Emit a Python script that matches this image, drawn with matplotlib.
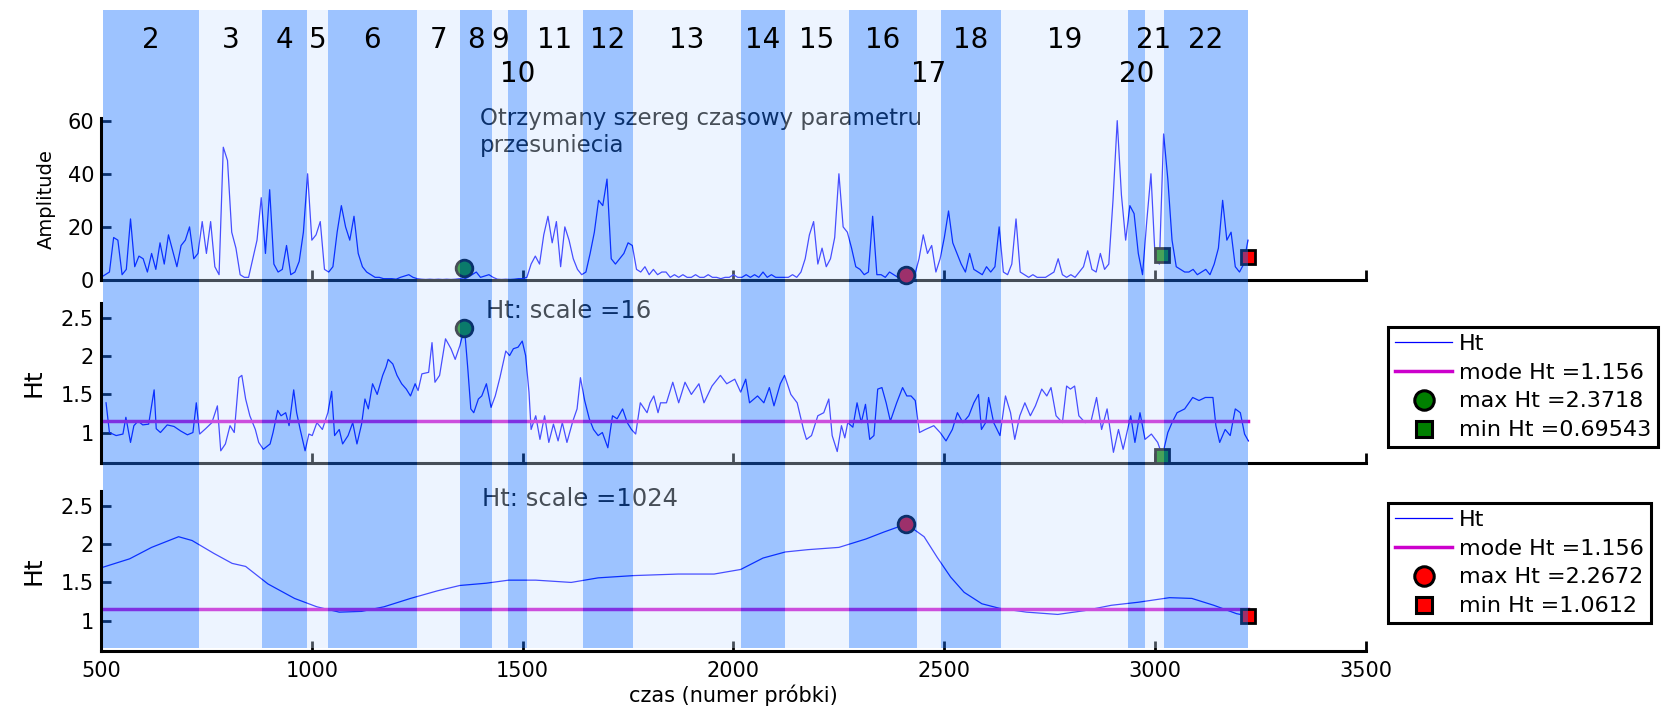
import numpy as np
import matplotlib
matplotlib.use("Agg")
import matplotlib.pyplot as plt
from matplotlib.lines import Line2D

# ---------------------------------------------------------------------------
# Data
# ---------------------------------------------------------------------------

# segment boundaries (sample index); segment n spans seg_edges[n-2]..seg_edges[n-1]
seg_edges = [505, 732, 882, 988, 1038, 1249, 1351, 1427, 1465, 1510, 1643,
             1761, 2017, 2122, 2273, 2435, 2492, 2634, 2935, 2975, 3020, 3220]
seg_numbers = list(range(2, 23))
seg_second_row = [10, 17, 20]

# shift-parameter amplitude, one value every 10 samples from 500
amp_start, amp_step = 500, 10
amp_values = [
    1, 2, 3, 16, 15, 2, 4, 23, 5, 9, 8, 3, 10, 4, 14, 6, 17, 11, 5, 13, 15, 20, 8, 10,
    22, 10, 22, 5, 2, 50, 45, 18, 12, 2, 1, 1, 8, 15, 31,
    10, 34, 6, 3, 4, 13, 2, 3, 7, 18, 40, 15, 17, 22, 4,
    3, 5, 18, 28, 20, 15, 24, 10, 5, 3, 2, 1, 1, 0.5, 0.5, 0.5, 0.3, 1, 1.5, 2, 1, 0.5,
    0.3, 0.2, 0.3, 0.2, 0.3, 0.2, 0.3, 0.2, 0.3, 0.5, 0.3, 1, 2, 3, 1, 1.5, 2, 1, 0.3,
    0.2, 0.3, 0.2, 0.3, 0.5, 0.5, 1,
    6, 9, 6, 17, 24, 14, 22, 5, 20, 15, 8, 4, 2,
    3, 10, 18, 30, 28, 38, 8, 6, 8, 10, 14, 13,
    4, 3, 5, 2, 4, 2, 3, 3, 1, 2, 1, 2, 1, 1, 2, 1, 1, 2, 1, 1, 0.5, 1, 1, 2, 1,
    1, 2, 1, 2, 1, 3, 1, 2, 1, 1, 1,
    1, 2, 1, 3, 8, 17, 22, 6, 12, 5, 8, 16, 40, 20, 18,
    12, 5, 4, 2, 3, 24, 2, 2, 1, 3, 2, 1, 2, 1, 3, 2,
    8, 17, 10, 13, 3, 8, 16, 26, 14, 10, 6, 3, 10, 4, 3, 2, 5, 3, 5, 20,
    3, 2, 6, 23, 3, 2, 1, 2, 1, 1, 1, 2, 3, 8, 2, 1, 2, 1, 3, 5, 11, 4, 3, 10, 4, 6,
    30, 60, 32, 15,
    28, 25, 10, 2, 22, 40, 8, 6,
    55, 38, 15, 5, 4, 3, 3, 4, 2, 3, 4, 2, 6, 12, 30, 15, 18, 5, 3, 6, 15,
]

# Hurst exponent, scale 16
ht16_x = [
    512, 520, 536, 552, 559, 570, 578, 588, 599, 613, 626, 631, 641, 657, 673, 689,
    705, 718, 726, 734, 748, 763, 776, 784, 795, 806, 816, 827, 834, 843, 853, 866,
    874, 885, 901, 908, 919, 927, 938, 946, 957, 964, 972, 984, 993, 1001, 1012, 1025,
    1038, 1047, 1054, 1065, 1073, 1086, 1097, 1107, 1118, 1126, 1134, 1144, 1155, 1168,
    1176, 1181, 1192, 1202, 1213, 1224, 1234, 1245, 1252, 1261, 1277, 1285, 1292, 1303,
    1317, 1330, 1340, 1351, 1362, 1370, 1377, 1384, 1395, 1403, 1414, 1425, 1435, 1446,
    1460, 1469, 1478, 1489, 1499, 1507, 1515, 1520, 1531, 1541, 1552, 1562, 1573, 1584,
    1594, 1605, 1619, 1629, 1637, 1647, 1658, 1668, 1679, 1689, 1702, 1713, 1724, 1737,
    1748, 1758, 1768, 1779, 1795, 1802, 1811, 1821, 1827, 1841, 1856, 1870, 1885, 1900,
    1918, 1930, 1949, 1969, 1984, 2003, 2017, 2029, 2038, 2057, 2072, 2085, 2096, 2111,
    2121, 2136, 2151, 2166, 2173, 2185, 2200, 2214, 2226, 2234, 2246, 2256, 2264, 2271,
    2283, 2293, 2303, 2313, 2323, 2333, 2342, 2352, 2362, 2372, 2387, 2401, 2411, 2421,
    2431, 2441, 2455, 2475, 2490, 2504, 2519, 2531, 2544, 2558, 2570, 2581, 2588, 2598,
    2605, 2617, 2632, 2645, 2657, 2667, 2679, 2691, 2704, 2716, 2731, 2743, 2753, 2765,
    2780, 2790, 2799, 2809, 2819, 2834, 2848, 2861, 2873, 2886, 2901, 2913, 2924, 2942,
    2952, 2964, 2976, 2991, 3006, 3017, 3030, 3040, 3052, 3070, 3089, 3104, 3119, 3137,
    3144, 3153, 3166, 3178, 3190, 3202, 3212, 3221,
]
ht16_y = [
    1.39, 1.00, 0.96, 0.98, 1.20, 0.87, 1.09, 1.15, 1.10, 1.11, 1.56, 1.05, 1.00, 1.10, 1.08, 1.02,
    0.97, 1.00, 1.39, 0.98, 1.05, 1.13, 1.35, 0.76, 0.85, 1.09, 1.00, 1.72, 1.75, 1.44, 1.22, 1.04,
    0.87, 0.78, 0.85, 1.00, 1.29, 1.22, 1.26, 1.09, 1.56, 1.26, 1.05, 0.76, 0.98, 0.96, 1.13, 1.04,
    1.26, 1.54, 0.96, 1.04, 0.85, 0.96, 1.13, 0.85, 1.11, 1.44, 1.31, 1.64, 1.50, 1.75,
    1.86, 1.96, 1.90, 1.75, 1.64, 1.57, 1.48, 1.64, 1.55, 1.77, 1.79, 2.18, 1.66, 1.75,
    2.23, 2.10, 1.96, 2.14, 2.3718, 1.83, 1.31, 1.26, 1.44, 1.48, 1.64, 1.33, 1.48, 1.72,
    2.07, 2.01, 2.10, 2.12, 2.20, 2.01, 1.53, 1.04, 1.22, 0.91, 1.22, 0.87, 1.11, 0.89,
    1.13, 0.87, 1.15, 1.31, 1.72, 1.42, 1.18, 1.04, 0.96, 1.00, 0.80, 1.22, 1.18, 1.31,
    1.13, 1.04, 0.98, 1.39, 1.26, 1.39, 1.48, 1.26, 1.39, 1.39, 1.66, 1.39, 1.66, 1.50,
    1.64, 1.39, 1.61, 1.75, 1.64, 1.70, 1.53, 1.70, 1.39, 1.48, 1.39, 1.59, 1.35, 1.64,
    1.75, 1.50, 1.39, 1.04, 0.91, 0.96, 1.22, 1.26, 1.44, 0.96, 0.75, 1.09, 0.93, 1.13,
    1.07, 1.39, 1.13, 1.37, 0.91, 0.96, 1.57, 1.59, 1.39, 1.15, 1.39, 1.59, 1.48, 1.48,
    1.42, 1.00, 1.04, 1.09, 1.00, 0.89, 1.04, 1.26, 1.13, 1.22, 1.39, 1.50, 1.04, 1.13,
    1.46, 1.13, 0.96, 1.48, 1.26, 0.91, 1.22, 1.39, 1.22, 1.35, 1.57, 1.48, 1.59, 1.22,
    1.13, 1.61, 1.57, 1.61, 1.22, 1.13, 1.15, 1.46, 1.04, 1.31, 0.74, 1.04, 0.78, 1.22,
    0.87, 1.26, 0.91, 0.98, 0.87, 0.69543, 1.00, 1.13, 1.26, 1.31, 1.46, 1.42, 1.46, 1.46,
    1.09, 0.87, 1.04, 0.96, 1.31, 1.26, 0.98, 0.89,
]

# Hurst exponent, scale 1024
ht1024_x = [
    505, 568, 620, 684, 716, 768, 811, 843, 896, 959, 1012, 1065, 1118, 1171, 1234,
    1298, 1351, 1414, 1467, 1531, 1615, 1679, 1764, 1869, 1954, 2017, 2070, 2123, 2176,
    2250, 2314, 2356, 2410, 2452, 2483, 2515, 2547, 2589, 2631, 2695, 2769, 2833, 2896,
    2960, 3034, 3087, 3139, 3193, 3220,
]
ht1024_y = [
    1.70, 1.81, 1.96, 2.10, 2.05, 1.88, 1.75, 1.71, 1.48, 1.29, 1.18, 1.11, 1.12, 1.18, 1.29,
    1.39, 1.46, 1.49, 1.53, 1.53, 1.50, 1.56, 1.59, 1.61, 1.61, 1.67, 1.82, 1.90, 1.93,
    1.96, 2.07, 2.16, 2.2672, 2.10, 1.83, 1.57, 1.37, 1.22, 1.16, 1.11, 1.08, 1.13, 1.20,
    1.24, 1.30, 1.29, 1.20, 1.09, 1.0612,
]

mode_ht = 1.156
mode_span = [505, 3220]
max16_x, max16_val = 1362, 2.3718
min16_x, min16_val = 3017, 0.69543
max1024_x, max1024_val = 2410, 2.2672
min1024_x, min1024_val = 3220, 1.0612

# the same four positions marked on the amplitude trace
amp_mark_y = [4.6, 1.9, 9.4, 8.8]

# ---------------------------------------------------------------------------
# Styling
# ---------------------------------------------------------------------------

BLUE = "#0000ff"
MODE_C = "#cc00cc"
GREEN = "#008000"
RED = "#ff0000"
DARK_BAND = (0.094, 0.446, 1.0)
LIGHT_BAND = (0.80, 0.886, 1.0)

W_PX, H_PX = 1665, 706
L = 101 / W_PX
W = (1366 - 101) / W_PX


def style_axes(ax, ylim, yticks, yticklabels, show_x):
    ax.set_xlim(500, 3500)
    ax.set_ylim(*ylim)
    ax.set_xticks(range(500, 3501, 500))
    ax.set_yticks(yticks)
    ax.set_yticklabels(yticklabels)
    for s in ("top", "right"):
        ax.spines[s].set_visible(False)
    for s in ("left", "bottom"):
        ax.spines[s].set_linewidth(2.2)
    ax.tick_params(direction="in", length=7, width=2, labelsize=15, pad=5)
    ax.tick_params(axis="x", pad=7)
    if not show_x:
        ax.tick_params(axis="x", labelbottom=False)
    ax.patch.set_alpha(0)


def marker(ax, x, y, shape, color, size):
    ax.plot([x], [y], ls="none", marker=shape, ms=size, mfc=color,
            mec="black", mew=2, zorder=6, clip_on=False)


def add_legend(ax, top_px, color, max_val, min_val):
    handles = [
        Line2D([], [], color=BLUE, lw=0.9),
        Line2D([], [], color=MODE_C, lw=2.5),
        Line2D([], [], ls="none", marker="o", ms=14, mfc=color, mec="black", mew=2.2),
        Line2D([], [], ls="none", marker="s", ms=11, mfc=color, mec="black", mew=2.2),
    ]
    labels = ["Ht", f"mode Ht ={mode_ht:g}", f"max Ht ={max_val:g}",
              f"min Ht ={min_val:g}"]
    leg = ax.legend(handles, labels, loc="upper left",
                    bbox_to_anchor=(1388 / W_PX, 1 - top_px / H_PX),
                    bbox_transform=ax.figure.transFigure,
                    fontsize=16, frameon=True, fancybox=False, framealpha=1,
                    edgecolor="black", borderpad=0.3, labelspacing=0.4,
                    handlelength=2.6, handletextpad=0.3, borderaxespad=0,
                    numpoints=1)
    leg.get_frame().set_linewidth(2.2)


fig = plt.figure(figsize=(W_PX / 100, H_PX / 100), dpi=100)

ax_amp = fig.add_axes([L, 1 - 280 / H_PX, W, 162 / H_PX])
ax_h16 = fig.add_axes([L, 1 - 463 / H_PX, W, 160 / H_PX])
ax_h1k = fig.add_axes([L, 1 - 651 / H_PX, W, 160 / H_PX])

# --- amplitude ---
amp_x = np.arange(len(amp_values)) * amp_step + amp_start
ax_amp.plot(amp_x, amp_values, color=BLUE, lw=0.9)
style_axes(ax_amp, (0, 61), [0, 20, 40, 60], ["0", "20", "40", "60"], False)
ax_amp.set_ylabel("Amplitude", fontsize=14)
ax_amp.yaxis.set_label_coords(-0.036, 0.5)
ax_amp.text(1399, 65.3, "Otrzymany szereg czasowy parametru\nprzesuniecia",
            fontsize=16.5, va="top", ha="left", linespacing=1.25, color="black")
marker(ax_amp, max16_x, amp_mark_y[0], "o", GREEN, 12)
marker(ax_amp, max1024_x, amp_mark_y[1], "o", RED, 12)
marker(ax_amp, min16_x, amp_mark_y[2], "s", GREEN, 10)
marker(ax_amp, min1024_x, amp_mark_y[3], "s", RED, 10)

ht_ticks = [1, 1.5, 2, 2.5]
ht_labels = ["1", "1.5", "2", "2.5"]

# --- Ht, scale 16 ---
ax_h16.plot(ht16_x, ht16_y, color=BLUE, lw=0.9)
ax_h16.plot(mode_span, [mode_ht, mode_ht], color=MODE_C, lw=2.5)
marker(ax_h16, max16_x, max16_val, "o", GREEN, 12)
marker(ax_h16, min16_x, min16_val, "s", GREEN, 10)
style_axes(ax_h16, (0.6, 2.7), ht_ticks, ht_labels, False)
ax_h16.set_ylabel("Ht", fontsize=18)
ax_h16.yaxis.set_label_coords(-0.0435, 0.5)
ax_h16.text(1413, 2.59, "Ht: scale =16", fontsize=17.5, va="center", color="black")
add_legend(ax_h16, 327, GREEN, max16_val, min16_val)

# --- Ht, scale 1024 ---
ax_h1k.plot(ht1024_x, ht1024_y, color=BLUE, lw=0.9)
ax_h1k.plot(mode_span, [mode_ht, mode_ht], color=MODE_C, lw=2.5)
marker(ax_h1k, max1024_x, max1024_val, "o", RED, 12)
marker(ax_h1k, min1024_x, min1024_val, "s", RED, 10)
style_axes(ax_h1k, (0.6, 2.7), ht_ticks, ht_labels, True)
ax_h1k.set_ylabel("Ht", fontsize=18)
ax_h1k.yaxis.set_label_coords(-0.0435, 0.5)
ax_h1k.set_xlabel("czas (numer próbki)", fontsize=15)
ax_h1k.xaxis.set_label_coords(0.5, -0.21)
ax_h1k.text(1403, 2.60, "Ht: scale =1024", fontsize=17.5, va="center", color="black")
add_legend(ax_h1k, 503, RED, max1024_val, min1024_val)

# --- translucent segment bands laid over all three panels ---
ov = fig.add_axes([L, 1 - 648 / H_PX, W, 638 / H_PX], zorder=5)
ov.set_xlim(500, 3500)
ov.set_ylim(0, 1)
ov.axis("off")
for i, n in enumerate(seg_numbers):
    a, b = seg_edges[i], seg_edges[i + 1]
    if n % 2 == 0:
        ov.axvspan(a, b, color=DARK_BAND, alpha=0.424, lw=0)
    else:
        ov.axvspan(a, b, color=LIGHT_BAND, alpha=0.35, lw=0)
    y = 0.90 if n in seg_second_row else 0.953
    ov.text((a + b) / 2, y, str(n), ha="center", va="center", fontsize=20,
            color="black", zorder=10)

fig.savefig("out.png", dpi=100)
